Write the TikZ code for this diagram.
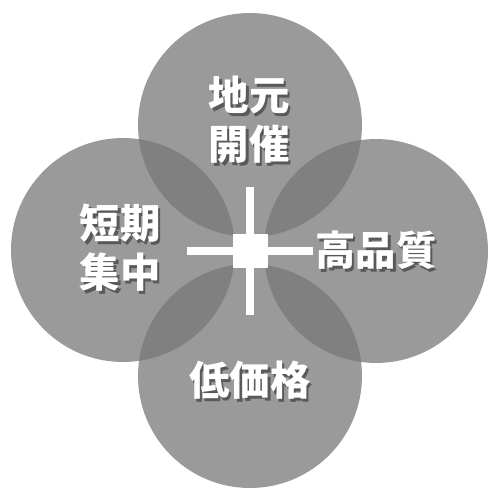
\documentclass[tikz,border=0pt]{standalone}
\usepackage{fontspec}
\newfontfamily\jp{Noto Sans CJK JP}
\usepackage{tikz}
\usetikzlibrary{positioning}

% white text with a soft dark shadow below right
\newcommand{\shtext}[1]{\makebox[0pt][l]{\raisebox{-1.6pt}{\hspace{1.4pt}\textcolor{black!65}{#1}}}\textcolor{white}{#1}}

\tikzset{
  petal/.style={circle, minimum size=4.48cm, inner sep=0pt, fill=petalgray, fill opacity=0.74, draw=none},
  word/.style={font=\jp\bfseries\fontsize{23}{28}\selectfont, align=center, inner sep=0pt},
  bar/.style={draw=white, line width=4.4pt}
}
\definecolor{petalgray}{RGB}{119,119,119}

\begin{document}
\begin{tikzpicture}[x=0.02cm, y=-0.02cm]
  \useasboundingbox[fill=white] (0,0) rectangle (489,489);
  % four circles
  \node[petal] (top)    at (250,125) {};
  \node[petal] (left)   at (123,250) {};
  \node[petal] (right)  at (376,251) {};
  \node[petal] (bottom) at (250,376) {};
  % cross in the middle
  \node[fill=white, minimum size=0.7cm, inner sep=0pt] (hub) at (250,251) {};
  \coordinate (n) at (250,187);
  \coordinate (s) at (250,315);
  \coordinate (w) at (187,251);
  \coordinate (e) at (313,251);
  \draw[bar] (n) -- (s);
  \draw[bar] (w) -- (e);
  % labels
  \node[word] (t-top)    at (249,121) {\shtext{地元}\\\shtext{開催}};
  \node[word] (t-left)   at (120,249) {\shtext{短期}\\\shtext{集中}};
  \node[word] (t-right)  at (376,252) {\shtext{高品質}};
  \node[word] (t-bottom) at (250,382) {\shtext{低価格}};
\end{tikzpicture}
\end{document}
